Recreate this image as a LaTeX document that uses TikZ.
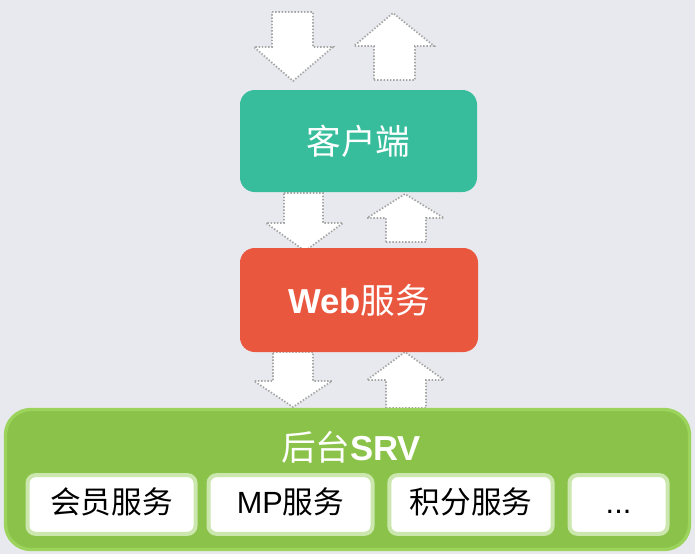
\documentclass[tikz,border=0pt]{standalone}
\usepackage{fontspec}
\setmainfont{Liberation Sans}
\newfontfamily\cjk{Noto Sans CJK SC}
\definecolor{bgcol}{HTML}{E8E9EE}
\definecolor{clientcol}{HTML}{37BD9C}
\definecolor{webcol}{HTML}{EA573F}
\definecolor{srvcol}{HTML}{8BC34A}
\definecolor{srvedge}{HTML}{9CD35C}
\definecolor{subedge}{HTML}{CBE7AE}
\tikzset{
  fatarrow/.style={fill=white,draw=gray!70,line width=1.3pt,dash pattern=on 1.1pt off 1.3pt},
  box/.style={rounded corners=11pt,text=white,font=\fontsize{26}{30}\selectfont},
  subbox/.style={fill=white,draw=subedge,line width=3pt,rounded corners=6pt,
    minimum height=44pt,text height=17pt,text depth=4pt,font=\fontsize{23}{27}\selectfont}
}
\begin{document}
\begin{tikzpicture}[x=0.75pt,y=-0.75pt]
\fill[bgcol] (0,0) rectangle (695,554);
% arrows between the layers
\draw[fatarrow] (272,12) -- (313,12) -- (313,47) -- (333,47) -- (293,81) -- (254,47) -- (272,47) -- cycle;
\draw[fatarrow] (374,80) -- (415,80) -- (415,46) -- (434,46) -- (393,13) -- (354,46) -- (374,46) -- cycle;
\draw[fatarrow] (284,193) -- (323,193) -- (323,223) -- (343,223) -- (305,251) -- (266,223) -- (284,223) -- cycle;
\draw[fatarrow] (386,242) -- (426,242) -- (426,218) -- (444,218) -- (405,194) -- (367,218) -- (386,218) -- cycle;
\draw[fatarrow] (273,352) -- (313,352) -- (313,381) -- (332,381) -- (293,407) -- (254,381) -- (273,381) -- cycle;
\draw[fatarrow] (386,408) -- (426,408) -- (426,380) -- (444,380) -- (405,352) -- (367,380) -- (386,380) -- cycle;
% layers
\node[box,fill=clientcol,minimum width=177.75pt,minimum height=76.5pt] (client) at (358.5,141) {\cjk 客户端};
\node[box,fill=webcol,minimum width=178.5pt,minimum height=78pt] (web) at (359,300) {\bfseries Web{\cjk\mdseries 服务}};
\node[fill=srvcol,draw=srvedge,line width=2.5pt,rounded corners=19pt,minimum width=513pt,minimum height=105pt] (srv) at (347.5,479.5) {};
\node[text=white,font=\fontsize{26}{30}\selectfont] (srvtitle) at (351,447) {{\cjk 后台}\bfseries SRV};
% services
\node[subbox,minimum width=126pt] (member) at (111.5,504.5) {\cjk 会员服务};
\node[subbox,minimum width=123pt] (mp) at (290.5,504.5) {MP{\cjk 服务}};
\node[subbox,minimum width=122.5pt] (points) at (471,504.5) {\cjk 积分服务};
\node[subbox,minimum width=73.5pt] (more) at (618.5,504.5) {...};
\end{tikzpicture}
\end{document}
